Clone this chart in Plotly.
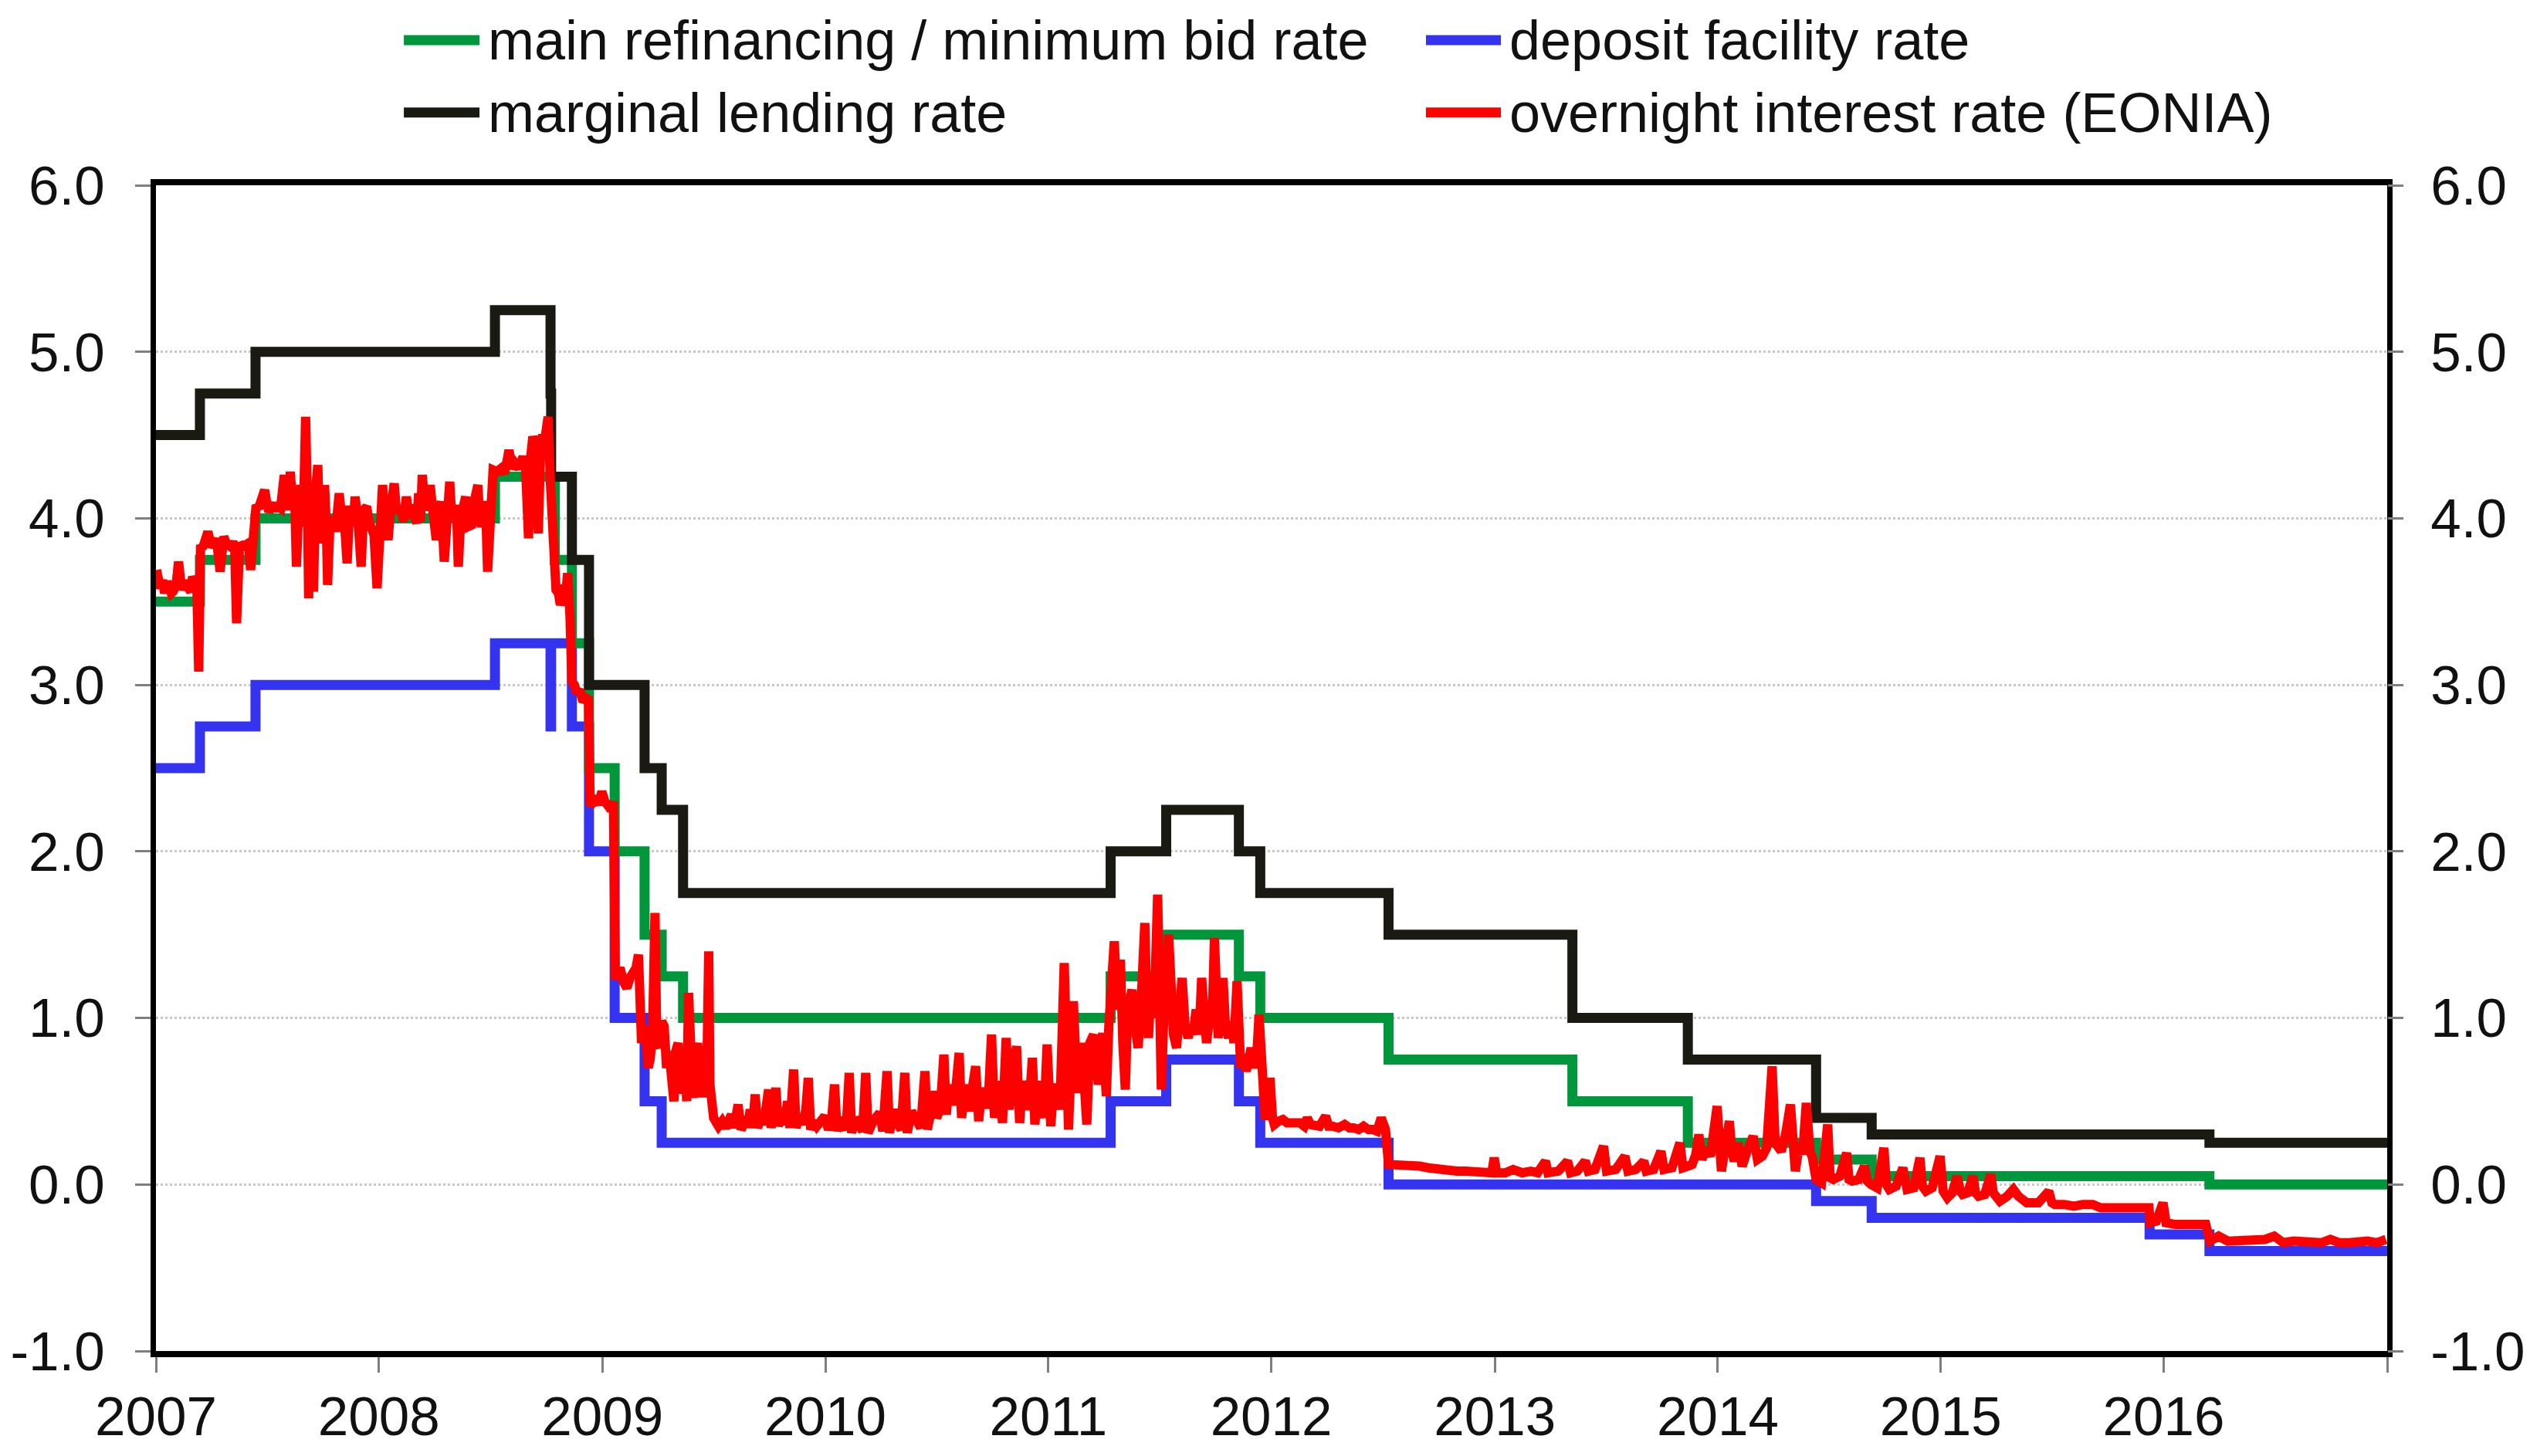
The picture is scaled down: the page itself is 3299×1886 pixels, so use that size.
import plotly.graph_objects as go

# ---------------- data ----------------
mro_dates = ["2007-01-01", "2007-03-14", "2007-06-13", "2008-07-09", "2008-10-15", "2008-11-12",
             "2008-12-10", "2009-01-21", "2009-03-11", "2009-04-08", "2009-05-13", "2011-04-13",
             "2011-07-13", "2011-11-09", "2011-12-14", "2012-07-11", "2013-05-08", "2013-11-13",
             "2014-06-11", "2014-09-10", "2016-03-16", "2017-01-01"]
mro_rate = [3.50, 3.75, 4.00, 4.25, 3.75, 3.25, 2.50, 2.00, 1.50, 1.25, 1.00, 1.25,
            1.50, 1.25, 1.00, 0.75, 0.50, 0.25, 0.15, 0.05, 0.00, 0.00]

deposit_dates = ["2007-01-01", "2007-03-14", "2007-06-13", "2008-07-09", "2008-10-08", "2008-10-09",
                 "2008-11-12", "2008-12-10", "2009-01-21", "2009-03-11", "2009-04-08", "2011-04-13",
                 "2011-07-13", "2011-11-09", "2011-12-14", "2012-07-11", "2014-06-11", "2014-09-10",
                 "2015-12-09", "2016-03-16", "2017-01-01"]
deposit_rate = [2.50, 2.75, 3.00, 3.25, 2.75, 3.25, 2.75, 2.00, 1.00, 0.50, 0.25, 0.50,
                0.75, 0.50, 0.25, 0.00, -0.10, -0.20, -0.30, -0.40, -0.40]

marginal_dates = ["2007-01-01", "2007-03-14", "2007-06-13", "2008-07-09", "2008-10-08", "2008-10-09",
                  "2008-11-12", "2008-12-10", "2009-03-11", "2009-04-08", "2009-05-13", "2011-04-13",
                  "2011-07-13", "2011-11-09", "2011-12-14", "2012-07-11", "2013-05-08", "2013-11-13",
                  "2014-06-11", "2014-09-10", "2016-03-16", "2017-01-01"]
marginal_rate = [4.50, 4.75, 5.00, 5.25, 4.75, 4.25, 3.75, 3.00, 2.50, 2.25, 1.75, 2.00,
                 2.25, 2.00, 1.75, 1.50, 1.00, 0.75, 0.40, 0.30, 0.25, 0.25]

eonia_2007 = [("2007-01-02", 3.69), ("2007-01-05", 3.60), ("2007-01-08", 3.58), ("2007-01-12", 3.63),
              ("2007-01-15", 3.55), ("2007-01-19", 3.62), ("2007-01-22", 3.60), ("2007-01-26", 3.55),
              ("2007-01-29", 3.56), ("2007-02-03", 3.60), ("2007-02-07", 3.74), ("2007-02-10", 3.58),
              ("2007-02-12", 3.57), ("2007-02-16", 3.62), ("2007-02-20", 3.60), ("2007-02-24", 3.56),
              ("2007-02-27", 3.56), ("2007-03-02", 3.65), ("2007-03-06", 3.62), ("2007-03-09", 3.58),
              ("2007-03-12", 3.08), ("2007-03-15", 3.84), ("2007-03-18", 3.82),
              ("2007-03-21", 3.85), ("2007-03-27", 3.92), ("2007-03-31", 3.86), ("2007-04-03", 3.83),
              ("2007-04-07", 3.85), ("2007-04-10", 3.88), ("2007-04-16", 3.68), ("2007-04-19", 3.84),
              ("2007-04-22", 3.89), ("2007-04-26", 3.85), ("2007-04-30", 3.84), ("2007-05-03", 3.83),
              ("2007-05-07", 3.86), ("2007-05-10", 3.82), ("2007-05-13", 3.37), ("2007-05-16", 3.82),
              ("2007-05-18", 3.85), ("2007-05-23", 3.83), ("2007-05-28", 3.84), ("2007-06-01", 3.85),
              ("2007-06-05", 3.69), ("2007-06-08", 3.84), ("2007-06-11", 3.86),
              ("2007-06-14", 4.08), ("2007-06-18", 4.06), ("2007-06-21", 4.10), ("2007-06-25", 4.12),
              ("2007-06-28", 4.17), ("2007-07-02", 4.08), ("2007-07-05", 4.04), ("2007-07-09", 4.07),
              ("2007-07-12", 4.09), ("2007-07-16", 4.05), ("2007-07-20", 4.07), ("2007-07-24", 4.06),
              ("2007-07-30", 4.26), ("2007-08-03", 4.12), ("2007-08-06", 4.05), ("2007-08-09", 4.28),
              ("2007-08-13", 4.05), ("2007-08-16", 4.15), ("2007-08-19", 3.71), ("2007-08-23", 4.10),
              ("2007-08-26", 4.20), ("2007-08-30", 3.95), ("2007-09-03", 4.61), ("2007-09-06", 4.10),
              ("2007-09-08", 3.52), ("2007-09-10", 4.00), ("2007-09-12", 4.05), ("2007-09-14", 3.80),
              ("2007-09-16", 3.56), ("2007-09-19", 4.15), ("2007-09-23", 4.32), ("2007-09-26", 3.90),
              ("2007-09-29", 4.02), ("2007-10-02", 3.85), ("2007-10-04", 4.20), ("2007-10-07", 3.95),
              ("2007-10-09", 3.60), ("2007-10-13", 3.98), ("2007-10-18", 4.00), ("2007-10-22", 3.92),
              ("2007-10-28", 4.15), ("2007-11-01", 4.00), ("2007-11-04", 4.02), ("2007-11-07", 3.90),
              ("2007-11-10", 3.73), ("2007-11-14", 4.05), ("2007-11-17", 4.05), ("2007-11-20", 3.95),
              ("2007-11-23", 4.13), ("2007-11-28", 3.98), ("2007-12-03", 3.71), ("2007-12-07", 4.05),
              ("2007-12-12", 4.07), ("2007-12-16", 3.98), ("2007-12-20", 3.95), ("2007-12-24", 3.90),
              ("2007-12-29", 3.58)]
eonia_2008 = [("2008-01-03", 4.05), ("2008-01-07", 4.20), ("2008-01-11", 4.00), ("2008-01-16", 3.87),
              ("2008-01-20", 4.05), ("2008-01-26", 4.21), ("2008-01-30", 4.03), ("2008-02-05", 4.07),
              ("2008-02-10", 3.98), ("2008-02-15", 4.13), ("2008-02-20", 4.00), ("2008-02-24", 4.08),
              ("2008-02-28", 4.02), ("2008-03-03", 3.97), ("2008-03-06", 4.15), ("2008-03-09", 3.98),
              ("2008-03-12", 4.26), ("2008-03-17", 4.05), ("2008-03-21", 4.10), ("2008-03-25", 4.20),
              ("2008-03-29", 4.05), ("2008-04-04", 3.87), ("2008-04-08", 4.05), ("2008-04-12", 4.10),
              ("2008-04-17", 3.74), ("2008-04-21", 4.00), ("2008-04-26", 4.22), ("2008-04-29", 4.02),
              ("2008-05-03", 4.00), ("2008-05-07", 4.08), ("2008-05-10", 3.71), ("2008-05-14", 4.00),
              ("2008-05-18", 4.06), ("2008-05-22", 4.13), ("2008-05-26", 3.95), ("2008-06-01", 3.96),
              ("2008-06-05", 4.10), ("2008-06-11", 4.20), ("2008-06-14", 4.00), ("2008-06-17", 3.95),
              ("2008-06-21", 4.10), ("2008-06-24", 4.05), ("2008-06-27", 3.68), ("2008-07-02", 4.10),
              ("2008-07-06", 4.29), ("2008-07-12", 4.28), ("2008-07-19", 4.30), ("2008-07-25", 4.27),
              ("2008-08-01", 4.41), ("2008-08-06", 4.30), ("2008-08-11", 4.33), ("2008-08-17", 4.30),
              ("2008-08-24", 4.37), ("2008-08-28", 4.32), ("2008-09-02", 3.88), ("2008-09-05", 4.35),
              ("2008-09-09", 4.49), ("2008-09-13", 4.45), ("2008-09-18", 3.91), ("2008-09-22", 4.45),
              ("2008-09-25", 4.50), ("2008-09-29", 4.48), ("2008-10-04", 4.61), ("2008-10-08", 4.20),
              ("2008-10-11", 3.87), ("2008-10-14", 3.75), ("2008-10-17", 3.57), ("2008-10-21", 3.55),
              ("2008-10-24", 3.48), ("2008-10-27", 3.52), ("2008-10-30", 3.60), ("2008-11-02", 3.55),
              ("2008-11-05", 3.67), ("2008-11-09", 3.40), ("2008-11-12", 3.02), ("2008-11-16", 3.00),
              ("2008-11-20", 2.95), ("2008-11-25", 2.97), ("2008-11-30", 2.90), ("2008-12-05", 2.92),
              ("2008-12-09", 2.93), ("2008-12-12", 2.27), ("2008-12-16", 2.30), ("2008-12-20", 2.33),
              ("2008-12-26", 2.28), ("2008-12-31", 2.36)]
eonia_2009 = [("2009-01-05", 2.30), ("2009-01-10", 2.28), ("2009-01-15", 2.25), ("2009-01-19", 2.30),
              ("2009-01-22", 1.23), ("2009-01-26", 1.28), ("2009-01-30", 1.30), ("2009-02-04", 1.22),
              ("2009-02-10", 1.18), ("2009-02-15", 1.24), ("2009-02-20", 1.26), ("2009-02-25", 1.30),
              ("2009-03-01", 1.38), ("2009-03-06", 0.85), ("2009-03-10", 0.95), ("2009-03-13", 0.90),
              ("2009-03-17", 0.70), ("2009-03-20", 0.75), ("2009-03-24", 0.90), ("2009-03-28", 1.63),
              ("2009-03-31", 0.85), ("2009-04-03", 0.82), ("2009-04-08", 0.98), ("2009-04-12", 0.95),
              ("2009-04-16", 0.70), ("2009-04-20", 0.80), ("2009-04-24", 0.65), ("2009-04-28", 0.50),
              ("2009-05-01", 0.80), ("2009-05-05", 0.85), ("2009-05-08", 0.60), ("2009-05-12", 0.55),
              ("2009-05-16", 0.75), ("2009-05-19", 0.50), ("2009-05-22", 1.15), ("2009-05-26", 0.80),
              ("2009-05-29", 0.52), ("2009-06-02", 0.75), ("2009-06-06", 0.85), ("2009-06-10", 0.55),
              ("2009-06-15", 0.55), ("2009-06-18", 0.80), ("2009-06-21", 0.70), ("2009-06-24", 1.40),
              ("2009-06-26", 0.60), ("2009-07-02", 0.40), ("2009-07-06", 0.36),
              ("2009-07-10", 0.35), ("2009-07-16", 0.38), ("2009-07-22", 0.34), ("2009-07-31", 0.42),
              ("2009-08-05", 0.34), ("2009-08-11", 0.48), ("2009-08-16", 0.33), ("2009-08-22", 0.37),
              ("2009-08-27", 0.35), ("2009-08-31", 0.45), ("2009-09-04", 0.34), ("2009-09-08", 0.54),
              ("2009-09-12", 0.34), ("2009-09-17", 0.40), ("2009-09-22", 0.36), ("2009-09-30", 0.57),
              ("2009-10-04", 0.34), ("2009-10-12", 0.58), ("2009-10-16", 0.35), ("2009-10-21", 0.42),
              ("2009-10-26", 0.36), ("2009-10-31", 0.50), ("2009-11-04", 0.34), ("2009-11-10", 0.69),
              ("2009-11-14", 0.34), ("2009-11-19", 0.41), ("2009-11-25", 0.36), ("2009-11-30", 0.45),
              ("2009-12-04", 0.64), ("2009-12-08", 0.33), ("2009-12-13", 0.38), ("2009-12-18", 0.35),
              ("2009-12-31", 0.41)]
eonia_2010 = [("2010-01-06", 0.33), ("2010-01-11", 0.38), ("2010-01-16", 0.60), ("2010-01-20", 0.32),
              ("2010-01-25", 0.40), ("2010-01-29", 0.36), ("2010-02-04", 0.33), ("2010-02-09", 0.67),
              ("2010-02-13", 0.31), ("2010-02-19", 0.40), ("2010-02-26", 0.35), ("2010-03-03", 0.32),
              ("2010-03-08", 0.67), ("2010-03-12", 0.31), ("2010-03-20", 0.38), ("2010-03-31", 0.43),
              ("2010-04-05", 0.32), ("2010-04-12", 0.68), ("2010-04-16", 0.31), ("2010-04-23", 0.45),
              ("2010-04-30", 0.36), ("2010-05-05", 0.33), ("2010-05-11", 0.67), ("2010-05-15", 0.31),
              ("2010-05-22", 0.44), ("2010-05-31", 0.38), ("2010-06-06", 0.34), ("2010-06-13", 0.68),
              ("2010-06-17", 0.33), ("2010-06-22", 0.42), ("2010-06-28", 0.56), ("2010-07-02", 0.40),
              ("2010-07-08", 0.45), ("2010-07-14", 0.78), ("2010-07-18", 0.42), ("2010-07-22", 0.60),
              ("2010-07-27", 0.48), ("2010-08-02", 0.55), ("2010-08-08", 0.79), ("2010-08-12", 0.40),
              ("2010-08-18", 0.60), ("2010-08-24", 0.44), ("2010-08-29", 0.55), ("2010-09-04", 0.71),
              ("2010-09-09", 0.38), ("2010-09-14", 0.58), ("2010-09-20", 0.46), ("2010-09-25", 0.52),
              ("2010-09-30", 0.90), ("2010-10-05", 0.40), ("2010-10-12", 0.62), ("2010-10-18", 0.37),
              ("2010-10-24", 0.88), ("2010-10-29", 0.45), ("2010-11-04", 0.70), ("2010-11-10", 0.83),
              ("2010-11-15", 0.37), ("2010-11-20", 0.62), ("2010-11-24", 0.55), ("2010-11-30", 0.45),
              ("2010-12-06", 0.76), ("2010-12-10", 0.36), ("2010-12-15", 0.62), ("2010-12-20", 0.50),
              ("2010-12-25", 0.40), ("2010-12-30", 0.84)]
eonia_2011 = [("2011-01-05", 0.35), ("2011-01-09", 0.55), ("2011-01-14", 0.60), ("2011-01-20", 0.45),
              ("2011-01-27", 1.33), ("2011-01-31", 0.80), ("2011-02-03", 0.33), ("2011-02-07", 0.70),
              ("2011-02-11", 1.10), ("2011-02-15", 0.75), ("2011-02-18", 0.55), ("2011-02-22", 0.70),
              ("2011-02-25", 0.85), ("2011-03-01", 0.60), ("2011-03-05", 0.36), ("2011-03-10", 0.85),
              ("2011-03-16", 0.90), ("2011-03-20", 0.72), ("2011-03-24", 0.60), ("2011-03-31", 0.91),
              ("2011-04-06", 0.53), ("2011-04-10", 0.95), ("2011-04-15", 1.20), ("2011-04-19", 1.46),
              ("2011-04-24", 1.05), ("2011-04-29", 1.35), ("2011-05-03", 0.85), ("2011-05-07", 0.57),
              ("2011-05-11", 1.05), ("2011-05-18", 1.17), ("2011-05-23", 0.95), ("2011-05-28", 0.82),
              ("2011-06-02", 1.10), ("2011-06-08", 1.57), ("2011-06-11", 1.10), ("2011-06-14", 0.88),
              ("2011-06-18", 1.20), ("2011-06-23", 1.00), ("2011-06-29", 1.74), ("2011-07-02", 1.05),
              ("2011-07-05", 0.57), ("2011-07-09", 1.00), ("2011-07-13", 1.15), ("2011-07-17", 1.50),
              ("2011-07-21", 1.00), ("2011-07-25", 0.90), ("2011-07-30", 0.82), ("2011-08-03", 1.05),
              ("2011-08-08", 1.24), ("2011-08-13", 0.95), ("2011-08-18", 0.88), ("2011-08-22", 0.95),
              ("2011-08-26", 0.90), ("2011-08-31", 1.05), ("2011-09-05", 0.90), ("2011-09-09", 1.24),
              ("2011-09-13", 0.92), ("2011-09-17", 0.85), ("2011-09-22", 1.00), ("2011-09-26", 0.95),
              ("2011-09-30", 1.48), ("2011-10-03", 1.00), ("2011-10-06", 0.88), ("2011-10-10", 1.05),
              ("2011-10-14", 1.24), ("2011-10-18", 0.95), ("2011-10-23", 0.88), ("2011-10-27", 0.98),
              ("2011-11-01", 0.85), ("2011-11-06", 1.22), ("2011-11-09", 0.90), ("2011-11-12", 0.70),
              ("2011-11-16", 0.78), ("2011-11-21", 0.68), ("2011-11-25", 0.75), ("2011-11-29", 0.82),
              ("2011-12-05", 0.70), ("2011-12-08", 0.75), ("2011-12-12", 1.02), ("2011-12-16", 0.70),
              ("2011-12-22", 0.39), ("2011-12-26", 0.45), ("2011-12-30", 0.64)]
eonia_2012 = [("2012-01-03", 0.40), ("2012-01-06", 0.36), ("2012-01-13", 0.38), ("2012-01-20", 0.39),
              ("2012-01-27", 0.37), ("2012-02-03", 0.37), ("2012-02-10", 0.36), ("2012-02-17", 0.37),
              ("2012-02-24", 0.35), ("2012-02-29", 0.40), ("2012-03-05", 0.36), ("2012-03-12", 0.36),
              ("2012-03-20", 0.35), ("2012-03-30", 0.41), ("2012-04-04", 0.35), ("2012-04-10", 0.35),
              ("2012-04-20", 0.34), ("2012-04-30", 0.36), ("2012-05-08", 0.34), ("2012-05-15", 0.34),
              ("2012-05-23", 0.33), ("2012-05-31", 0.35), ("2012-06-08", 0.33), ("2012-06-15", 0.33),
              ("2012-06-22", 0.32), ("2012-06-29", 0.40), ("2012-07-03", 0.34), ("2012-07-06", 0.33),
              ("2012-07-11", 0.12), ("2012-07-20", 0.12), ("2012-08-01", 0.11), ("2012-08-15", 0.11),
              ("2012-08-31", 0.11), ("2012-09-14", 0.10), ("2012-10-01", 0.09), ("2012-10-15", 0.09),
              ("2012-10-31", 0.08), ("2012-11-15", 0.08), ("2012-11-30", 0.08), ("2012-12-14", 0.07),
              ("2012-12-27", 0.07), ("2012-12-31", 0.16)]
eonia_2013 = [("2013-01-04", 0.07), ("2013-01-18", 0.07), ("2013-01-31", 0.09), ("2013-02-15", 0.07),
              ("2013-03-01", 0.08), ("2013-03-12", 0.07),
              ("2013-03-25", 0.14), ("2013-03-29", 0.07), ("2013-04-15", 0.08), ("2013-04-30", 0.14),
              ("2013-05-05", 0.07), ("2013-05-16", 0.08), ("2013-05-29", 0.14), ("2013-06-03", 0.08),
              ("2013-06-14", 0.09), ("2013-06-28", 0.23), ("2013-07-03", 0.08), ("2013-07-18", 0.09),
              ("2013-08-02", 0.17), ("2013-08-07", 0.08), ("2013-08-20", 0.09), ("2013-09-02", 0.14),
              ("2013-09-06", 0.08), ("2013-09-18", 0.09), ("2013-09-30", 0.20), ("2013-10-05", 0.09),
              ("2013-10-18", 0.10), ("2013-10-31", 0.25), ("2013-11-05", 0.10), ("2013-11-13", 0.11),
              ("2013-11-20", 0.12), ("2013-11-26", 0.18), ("2013-12-01", 0.30), ("2013-12-06", 0.15),
              ("2013-12-13", 0.22), ("2013-12-20", 0.17), ("2013-12-31", 0.47)]
eonia_2014 = [("2014-01-07", 0.08), ("2014-01-13", 0.20), ("2014-01-20", 0.38), ("2014-01-24", 0.20),
              ("2014-01-28", 0.14), ("2014-02-03", 0.25), ("2014-02-10", 0.11), ("2014-02-18", 0.20),
              ("2014-02-28", 0.29), ("2014-03-07", 0.15), ("2014-03-15", 0.17), ("2014-03-22", 0.22),
              ("2014-03-31", 0.71), ("2014-04-05", 0.25), ("2014-04-15", 0.20), ("2014-04-22", 0.30),
              ("2014-04-30", 0.48), ("2014-05-08", 0.08), ("2014-05-15", 0.25), ("2014-05-20", 0.18),
              ("2014-05-26", 0.49), ("2014-06-01", 0.20), ("2014-06-05", 0.16),
              ("2014-06-11", 0.03), ("2014-06-20", 0.01), ("2014-06-30", 0.36), ("2014-07-04", 0.04),
              ("2014-07-09", 0.03), ("2014-07-20", 0.05), ("2014-07-31", 0.19), ("2014-08-04", 0.03),
              ("2014-08-09", 0.02), ("2014-08-20", 0.03), ("2014-08-29", 0.11), ("2014-09-03", 0.02),
              ("2014-09-09", 0.00), ("2014-09-19", -0.02), ("2014-09-30", 0.22), ("2014-10-04", 0.00),
              ("2014-10-09", -0.03), ("2014-10-20", -0.01), ("2014-10-31", 0.10), ("2014-11-03", -0.01),
              ("2014-11-07", -0.03), ("2014-11-18", -0.02), ("2014-11-28", 0.16), ("2014-12-02", -0.01),
              ("2014-12-08", -0.04), ("2014-12-18", -0.02), ("2014-12-31", 0.17)]
eonia_2015 = [("2015-01-05", -0.04), ("2015-01-12", -0.08), ("2015-01-20", -0.05), ("2015-01-28", 0.05),
              ("2015-02-02", -0.04), ("2015-02-06", -0.06), ("2015-02-14", -0.05), ("2015-02-23", 0.05),
              ("2015-02-27", -0.05), ("2015-03-04", -0.07), ("2015-03-14", -0.06), ("2015-03-24", 0.06),
              ("2015-03-28", -0.05), ("2015-04-08", -0.10), ("2015-04-20", -0.07), ("2015-04-30", -0.03),
              ("2015-05-08", -0.07), ("2015-05-15", -0.10), ("2015-05-22", -0.11), ("2015-06-10", -0.11),
              ("2015-06-27", -0.04), ("2015-07-02", -0.11), ("2015-07-07", -0.12), ("2015-07-22", -0.12),
              ("2015-08-07", -0.13), ("2015-08-22", -0.12), ("2015-09-07", -0.12), ("2015-09-20", -0.14),
              ("2015-09-30", -0.14), ("2015-10-15", -0.13), ("2015-10-27", -0.13), ("2015-11-12", -0.14),
              ("2015-11-26", -0.14), ("2015-12-08", -0.14), ("2015-12-10", -0.23), ("2015-12-20", -0.22),
              ("2015-12-31", -0.11)]
eonia_2016 = [("2016-01-05", -0.23), ("2016-01-20", -0.24), ("2016-02-05", -0.24), ("2016-02-20", -0.24),
              ("2016-03-10", -0.24), ("2016-03-17", -0.34), ("2016-03-31", -0.31), ("2016-04-15", -0.34),
              ("2016-05-01", -0.34), ("2016-05-31", -0.33), ("2016-06-15", -0.33), ("2016-06-30", -0.31),
              ("2016-07-15", -0.35), ("2016-08-01", -0.34), ("2016-08-31", -0.34), ("2016-09-15", -0.35),
              ("2016-09-30", -0.33), ("2016-10-15", -0.35), ("2016-10-31", -0.35), ("2016-11-15", -0.34),
              ("2016-11-30", -0.34), ("2016-12-15", -0.35), ("2016-12-30", -0.33)]

x_tick_dates = ["2007-01-01", "2008-01-01", "2009-01-01", "2010-01-01", "2011-01-01", "2012-01-01",
                "2013-01-01", "2014-01-01", "2015-01-01", "2016-01-01", "2017-01-01"]
x_tick_labels = ["2007", "2008", "2009", "2010", "2011", "2012", "2013", "2014", "2015", "2016", ""]
y_tick_vals = [-1, 0, 1, 2, 3, 4, 5, 6]
y_tick_labels = ["-1.0", "0.0", "1.0", "2.0", "3.0", "4.0", "5.0", "6.0"]

series_names = ["main refinancing / minimum bid rate", "deposit facility rate",
                "marginal lending rate", "overnight interest rate (EONIA)"]

# ---------------- style ----------------
GREEN = "#00963C"
BLUE = "#3434F0"
BLACK = "#1B1A12"
RED = "#FF0000"
FONT = "Liberation Sans, Arial, sans-serif"

eonia = (eonia_2007 + eonia_2008 + eonia_2009 + eonia_2010 + eonia_2011 + eonia_2012 +
         eonia_2013 + eonia_2014 + eonia_2015 + eonia_2016)
eonia_dates = [d for d, _ in eonia]
eonia_values = [v for _, v in eonia]

fig = go.Figure()
fig.add_trace(go.Scatter(x=deposit_dates, y=deposit_rate, mode="lines", name=series_names[1],
                         line=dict(color=BLUE, width=13, shape="hv"), showlegend=False))
fig.add_trace(go.Scatter(x=mro_dates, y=mro_rate, mode="lines", name=series_names[0],
                         line=dict(color=GREEN, width=13, shape="hv"), showlegend=False))
fig.add_trace(go.Scatter(x=marginal_dates, y=marginal_rate, mode="lines", name=series_names[2],
                         line=dict(color=BLACK, width=13, shape="hv"), showlegend=False))
fig.add_trace(go.Scatter(x=eonia_dates, y=eonia_values, mode="lines", name=series_names[3],
                         line=dict(color=RED, width=12), showlegend=False, yaxis="y2"))

W, H = 3283, 1870
fig.update_layout(
    width=W, height=H,
    margin=dict(l=194, r=199, t=232, b=128),
    paper_bgcolor="white", plot_bgcolor="white",
    font=dict(family=FONT, size=71, color="#111111"),
    showlegend=False,
    xaxis=dict(type="date", range=["2007-01-01", "2017-01-01"], automargin=False,
               tickmode="array", tickvals=x_tick_dates, ticktext=x_tick_labels,
               ticks="outside", ticklen=20, tickwidth=3, tickcolor="#7f7f7f",
               ticklabelstandoff=-4,
               showgrid=False, zeroline=False,
               showline=True, linewidth=8, linecolor="black", mirror=True),
    yaxis=dict(range=[-1, 6], automargin=False, tickmode="array", tickvals=y_tick_vals,
               ticktext=y_tick_labels,
               ticks="outside", ticklen=20, tickwidth=3, tickcolor="#7f7f7f",
               ticklabelstandoff=25,
               showgrid=True, gridcolor="#c8c8c8", gridwidth=3, griddash="dot",
               zeroline=False,
               showline=True, linewidth=7, linecolor="black", mirror=True),
    yaxis2=dict(range=[-1, 6], overlaying="y", side="right", anchor="x", matches="y",
                automargin=False,
                tickmode="array", tickvals=y_tick_vals, ticktext=y_tick_labels,
                ticks="outside", ticklen=20, tickwidth=3, tickcolor="#7f7f7f",
                ticklabelstandoff=21,
                showgrid=False, zeroline=False, showline=False),
)

# legend drawn as line samples + text, two columns, two rows
legend_colors = [GREEN, BLUE, BLACK, RED]
legend_cols = [(0.1111, 0.1450, 0.1480), (0.5692, 0.6028, 0.6058)]
legend_rows = [1.1245, 1.0625]
for i, (name, color) in enumerate(zip(series_names, legend_colors)):
    x0, x1, xt = legend_cols[i % 2]
    yy = legend_rows[i // 2]
    fig.add_shape(type="line", xref="paper", yref="paper", x0=x0, x1=x1, y0=yy, y1=yy,
                  line=dict(color=color, width=13))
    fig.add_annotation(xref="paper", yref="paper", x=xt, y=yy, text=name, showarrow=False,
                       xanchor="left", yanchor="middle", font=dict(family=FONT, size=72, color="#111111"))

fig.write_html("out.html")
